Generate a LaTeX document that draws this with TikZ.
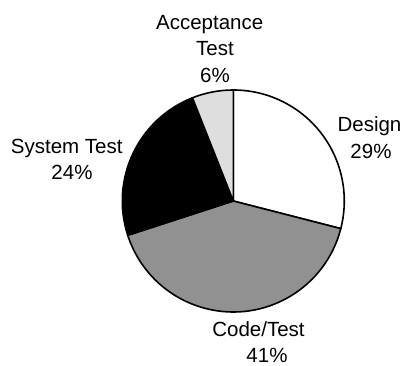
\documentclass[tikz,border=0pt]{standalone}
\usepackage{fontspec}
\setmainfont{Liberation Sans}
\definecolor{codegray}{RGB}{145,145,145}
\definecolor{accgray}{RGB}{222,222,222}
\tikzset{
  slice/.style={draw=black, line width=1.6pt, line join=round},
  lbl/.style={anchor=base, inner sep=0pt, font=\fontsize{20.5pt}{26pt}\selectfont}
}
\newcommand{\pieslice}[4]{% color, start, end, radius
  \filldraw[slice, fill=#1] (c) -- ++(#2:#4) arc[start angle=#2, end angle=#3, radius=#4] -- cycle;}
\begin{document}
\begin{tikzpicture}[x=1pt,y=1pt]
\useasboundingbox (0,0) rectangle (402,366);
\coordinate (c) at (233.3,165);
\pieslice{white}{90}{-14.4}{111}
\pieslice{codegray}{-14.4}{-162}{111}
\pieslice{black}{-162}{-248.4}{111}
\pieslice{accgray}{111.6}{90}{111}
% labels
\node[lbl] (acc1) at (209.7,336.7) {Acceptance};
\node[lbl] (acc2) at (215,310.5) {Test};
\node[lbl] (acc3) at (215,283) {6\%};
\node[lbl] (des1) at (369.5,234.3) {Design};
\node[lbl] (des2) at (371,207.7) {29\%};
\node[lbl] (sys1) at (66.7,212.7) {System Test};
\node[lbl] (sys2) at (72,186.7) {24\%};
\node[lbl] (cod1) at (258.5,29) {Code/Test};
\node[lbl] (cod2) at (267,3.5) {41\%};
\end{tikzpicture}
\end{document}
